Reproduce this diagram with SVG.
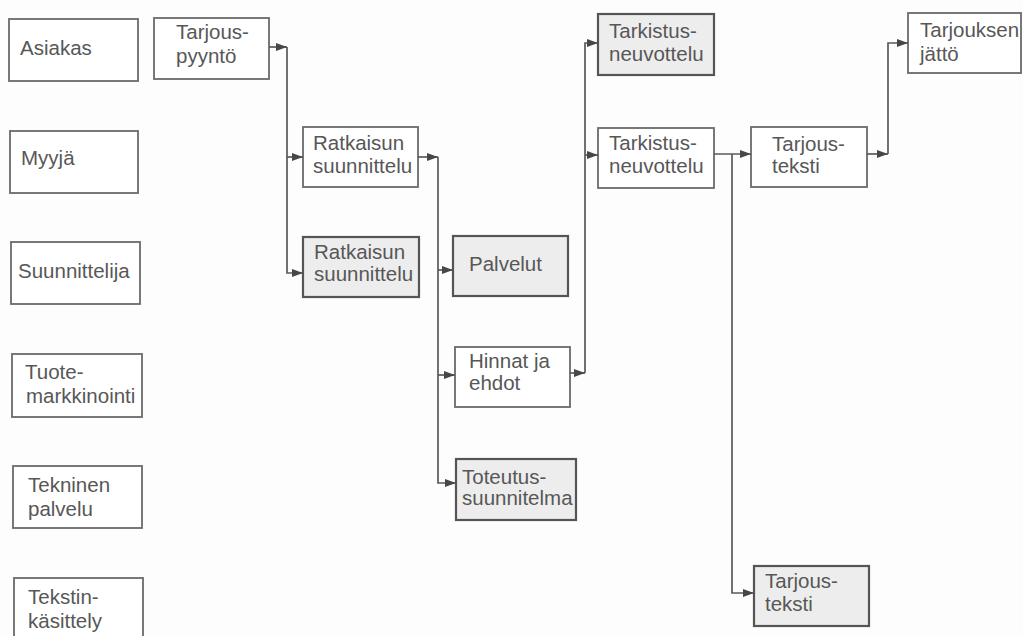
<svg xmlns="http://www.w3.org/2000/svg" width="1023" height="636" viewBox="0 0 1023 636">
  <style>
    .box { fill: #ffffff; stroke: #6a6a6a; stroke-width: 1.8; }
    .box.shade { fill: #ededed; stroke: #555555; stroke-width: 2.2; }
    .lbl { font-family: "Liberation Sans", Arial, Helvetica, sans-serif; font-size: 20.5px; fill: #575757; }
    .wire { fill: none; stroke: #5a5a5a; stroke-width: 1.7; }
  </style>
  <defs>
    <marker id="arrow" markerUnits="userSpaceOnUse" markerWidth="13" markerHeight="10" refX="11" refY="5" orient="auto">
      <path d="M0,1 L11,5 L0,9 Z" fill="#474747"/>
    </marker>
  </defs>
  <rect width="1023" height="636" fill="#fdfdfd"/>

  <!-- role column -->
  <g id="asiakas"><rect class="box" x="9" y="19" width="129" height="62"/><text class="lbl" x="20" y="55">Asiakas</text></g>
  <g id="myyja"><rect class="box" x="10" y="131" width="128" height="62"/><text class="lbl" x="21" y="165">Myyjä</text></g>
  <g id="suunnittelija"><rect class="box" x="11" y="242" width="129" height="62"/><text class="lbl" x="18" y="278">Suunnittelija</text></g>
  <g id="tuotemarkkinointi"><rect class="box" x="12" y="354" width="130" height="63"/><text class="lbl" x="25" y="379">Tuote-</text><text class="lbl" x="26" y="403">markkinointi</text></g>
  <g id="tekninen-palvelu"><rect class="box" x="13" y="466" width="129" height="62"/><text class="lbl" x="28" y="492">Tekninen</text><text class="lbl" x="28" y="516">palvelu</text></g>
  <g id="tekstinkasittely"><rect class="box" x="14" y="578" width="129" height="64"/><text class="lbl" x="28" y="604">Tekstin-</text><text class="lbl" x="28" y="628">käsittely</text></g>

  <!-- process steps -->
  <g id="tarjouspyynto"><rect class="box" x="154" y="18" width="115" height="61"/><text class="lbl" x="176" y="39">Tarjous-</text><text class="lbl" x="176" y="63">pyyntö</text></g>
  <g id="ratkaisu-myyja"><rect class="box" x="303" y="127" width="115" height="60"/><text class="lbl" x="313" y="150">Ratkaisun</text><text class="lbl" x="313" y="173">suunnittelu</text></g>
  <g id="ratkaisu-suunnittelija"><rect class="box shade" x="303" y="237" width="116" height="60"/><text class="lbl" x="314" y="259">Ratkaisun</text><text class="lbl" x="314" y="281">suunnittelu</text></g>
  <g id="palvelut"><rect class="box shade" x="453" y="236" width="115" height="60"/><text class="lbl" x="469" y="271">Palvelut</text></g>
  <g id="hinnat"><rect class="box" x="455" y="347" width="115" height="60"/><text class="lbl" x="469" y="368">Hinnat ja</text><text class="lbl" x="469" y="390">ehdot</text></g>
  <g id="toteutus"><rect class="box shade" x="456" y="459" width="120" height="61"/><text class="lbl" x="462" y="484">Toteutus-</text><text class="lbl" x="462" y="505">suunnitelma</text></g>
  <g id="tarkistus-suunnittelija"><rect class="box shade" x="598" y="14" width="116" height="61"/><text class="lbl" x="609" y="38">Tarkistus-</text><text class="lbl" x="609" y="61">neuvottelu</text></g>
  <g id="tarkistus-myyja"><rect class="box" x="598" y="128" width="116" height="60"/><text class="lbl" x="609" y="150">Tarkistus-</text><text class="lbl" x="609" y="173">neuvottelu</text></g>
  <g id="tarjousteksti-myyja"><rect class="box" x="751" y="127" width="116" height="60"/><text class="lbl" x="772" y="151">Tarjous-</text><text class="lbl" x="772" y="173">teksti</text></g>
  <g id="tarjousteksti-kasittely"><rect class="box shade" x="754" y="566" width="115" height="60"/><text class="lbl" x="765" y="588">Tarjous-</text><text class="lbl" x="765" y="611">teksti</text></g>
  <g id="tarjouksen-jatto"><rect class="box" x="908" y="13" width="113" height="60"/><text class="lbl" x="920" y="37">Tarjouksen</text><text class="lbl" x="920" y="61">jättö</text></g>

  <!-- flow lines -->
  <g id="connectors">
    <path class="wire" d="M269,47 H287" marker-end="url(#arrow)"/>
    <path class="wire" d="M287,47 V273 H303" marker-end="url(#arrow)"/>
    <path class="wire" d="M287,157 H303" marker-end="url(#arrow)"/>

    <path class="wire" d="M418,157 H438" marker-end="url(#arrow)"/>
    <path class="wire" d="M438,157 V483 H456" marker-end="url(#arrow)"/>
    <path class="wire" d="M438,270 H453" marker-end="url(#arrow)"/>
    <path class="wire" d="M438,375 H455" marker-end="url(#arrow)"/>

    <path class="wire" d="M570,373 H585" marker-end="url(#arrow)"/>
    <path class="wire" d="M585,373 V43 H598" marker-end="url(#arrow)"/>
    <path class="wire" d="M585,155 H598" marker-end="url(#arrow)"/>

    <path class="wire" d="M714,154 H751" marker-end="url(#arrow)"/>
    <path class="wire" d="M732,154 V593 H754" marker-end="url(#arrow)"/>

    <path class="wire" d="M867,154 H888" marker-end="url(#arrow)"/>
    <path class="wire" d="M888,154 V43 H908" marker-end="url(#arrow)"/>
  </g>
</svg>
